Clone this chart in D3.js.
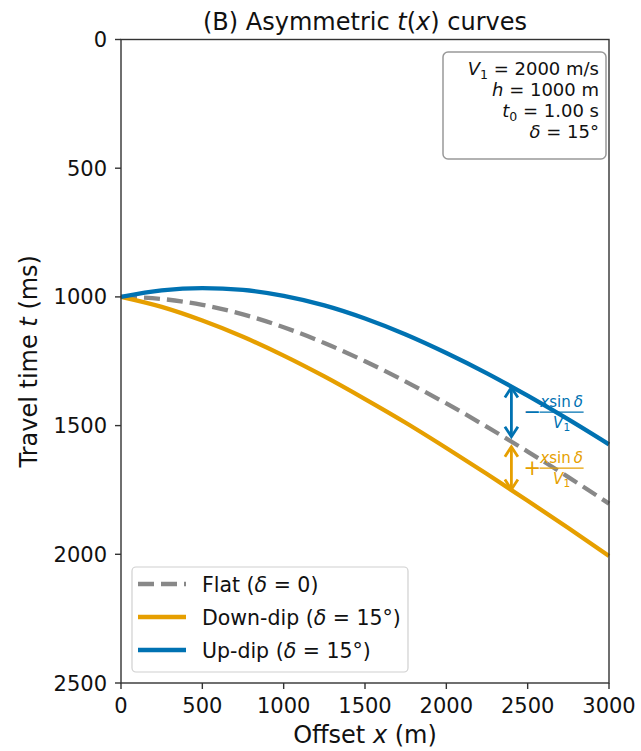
<!DOCTYPE html>
<html>
<head>
<meta charset="utf-8">
<script src="https://cdn.jsdelivr.net/npm/d3@7"></script>
<style>
  body { margin: 0; background: #fff; }
  svg { display: block; font-family: "DejaVu Sans", sans-serif; }
</style>
</head>
<body>
<div id="chart"></div>
<script>
// offsets (m) and travel times (ms)
const offsets = [0, 250, 500, 750, 1000, 1250, 1500, 1750, 2000, 2250, 2500, 2750, 3000];
const flatT = [1000, 1008, 1031, 1068, 1118, 1179, 1250, 1329, 1414, 1505, 1601, 1700, 1803];
const downT = [1000, 1039, 1092, 1155, 1228, 1309, 1397, 1489, 1587, 1688, 1792, 1898, 2007];
const upT = [1000, 975, 966, 973, 996, 1033, 1084, 1146, 1218, 1297, 1384, 1476, 1573];

const xTicks = [0, 500, 1000, 1500, 2000, 2500, 3000];
const yTicks = [0, 500, 1000, 1500, 2000, 2500];

// the two double arrows at x = 2400
const arrowX = 2400;
const upArrow = [1352, 1543];
const downArrow = [1582, 1748];

const paramLines = ["V1", "h", "t0", "delta"];

const width = 641, height = 751;
const margin = { left: 121, right: 32, top: 39.5, bottom: 68 };
const blue = "#0072B2", orange = "#E69F00", gray = "#888888";

const svg = d3.select("#chart").append("svg")
    .attr("width", width)
    .attr("height", height);

const x = d3.scaleLinear().domain([0, 3000]).range([margin.left, width - margin.right]);
const y = d3.scaleLinear().domain([0, 2500]).range([margin.top, height - margin.bottom]);

// curves
const series = [
    { vals: flatT, color: gray, dash: "16,7" },
    { vals: downT, color: orange, dash: null },
    { vals: upT, color: blue, dash: null }
];
const line = d3.line()
    .x(d => x(d[0]))
    .y(d => y(d[1]))
    .curve(d3.curveMonotoneX);

svg.append("g").selectAll("path")
    .data(series)
    .enter()
    .append("path")
    .attr("d", s => line(offsets.map((o, i) => [o, s.vals[i]])))
    .attr("fill", "none")
    .attr("stroke", s => s.color)
    .attr("stroke-width", 4.3)
    .attr("stroke-dasharray", s => s.dash);

// double arrows
function doubleArrow(g, t1, t2, color) {
    const ax = x(arrowX), y1 = y(t1), y2 = y(t2);
    const hw = 6.5, hl = 10;
    g.append("line")
        .attr("x1", ax).attr("x2", ax)
        .attr("y1", y1 + 1).attr("y2", y2 - 1)
        .attr("stroke", color).attr("stroke-width", 2.8);
    g.append("path")
        .attr("d", `M${ax - hw},${y1 + hl} L${ax},${y1} L${ax + hw},${y1 + hl}`)
        .attr("fill", "none").attr("stroke", color).attr("stroke-width", 2.8);
    g.append("path")
        .attr("d", `M${ax - hw},${y2 - hl} L${ax},${y2} L${ax + hw},${y2 - hl}`)
        .attr("fill", "none").attr("stroke", color).attr("stroke-width", 2.8);
}

function fracLabel(g, sign, tMid, color) {
    const lx = x(2475), cy = y(tMid);
    g.append("text")
        .attr("x", lx).attr("y", cy + 7)
        .attr("font-size", 21).attr("fill", color)
        .text(sign);
    const fx = lx + 38;
    const num = g.append("text")
        .attr("x", fx).attr("y", cy - 5)
        .attr("text-anchor", "middle")
        .attr("font-size", 15).attr("fill", color);
    num.append("tspan").attr("font-style", "italic").text("x");
    num.append("tspan").text("sin\u2009");
    num.append("tspan").attr("font-style", "italic").text("δ");
    g.append("line")
        .attr("x1", fx - 22).attr("x2", fx + 22)
        .attr("y1", cy).attr("y2", cy)
        .attr("stroke", color).attr("stroke-width", 1.2);
    const den = g.append("text")
        .attr("x", fx).attr("y", cy + 16)
        .attr("text-anchor", "middle")
        .attr("font-size", 15).attr("fill", color);
    den.append("tspan").attr("font-style", "italic").text("V");
    den.append("tspan").attr("font-size", 10.5).attr("dy", 3).text("1");
}

const ann = svg.append("g");
doubleArrow(ann, upArrow[0], upArrow[1], blue);
doubleArrow(ann, downArrow[0], downArrow[1], orange);
fracLabel(ann, "\u2212", (upArrow[0] + upArrow[1]) / 2, blue);
fracLabel(ann, "+", (downArrow[0] + downArrow[1]) / 2, orange);

// axes frame
const axisColor = "#333";
svg.append("rect")
    .attr("x", x(0)).attr("y", y(0))
    .attr("width", x(3000) - x(0)).attr("height", y(2500) - y(0))
    .attr("fill", "none").attr("stroke", axisColor).attr("stroke-width", 1.4);

const xAxis = svg.append("g").attr("transform", `translate(0,${y(2500)})`);
xAxis.selectAll("line").data(xTicks).enter().append("line")
    .attr("x1", d => x(d)).attr("x2", d => x(d))
    .attr("y1", 0).attr("y2", 6)
    .attr("stroke", axisColor).attr("stroke-width", 1.4);
xAxis.selectAll("text").data(xTicks).enter().append("text")
    .attr("x", d => x(d)).attr("y", 30)
    .attr("text-anchor", "middle")
    .attr("font-size", 21).attr("fill", "#111")
    .text(d => d);

const yAxis = svg.append("g").attr("transform", `translate(${x(0)},0)`);
yAxis.selectAll("line").data(yTicks).enter().append("line")
    .attr("x1", -6).attr("x2", 0)
    .attr("y1", d => y(d)).attr("y2", d => y(d))
    .attr("stroke", axisColor).attr("stroke-width", 1.4);
yAxis.selectAll("text").data(yTicks).enter().append("text")
    .attr("x", -14).attr("y", d => y(d) + 7.5)
    .attr("text-anchor", "end")
    .attr("font-size", 21).attr("fill", "#111")
    .text(d => d);

// axis labels
const xl = svg.append("text")
    .attr("x", (x(0) + x(3000)) / 2).attr("y", 743)
    .attr("text-anchor", "middle").attr("font-size", 24).attr("fill", "#111");
xl.append("tspan").text("Offset ");
xl.append("tspan").attr("font-style", "italic").text("x");
xl.append("tspan").text(" (m)");

const yl = svg.append("text")
    .attr("transform", `translate(37,${(y(0) + y(2500)) / 2}) rotate(-90)`)
    .attr("text-anchor", "middle").attr("font-size", 24).attr("fill", "#111");
yl.append("tspan").text("Travel time ");
yl.append("tspan").attr("font-style", "italic").text("t");
yl.append("tspan").text(" (ms)");

// title
const title = svg.append("text")
    .attr("x", (x(0) + x(3000)) / 2).attr("y", 30)
    .attr("text-anchor", "middle").attr("font-size", 24).attr("fill", "#111");
title.append("tspan").text("(B) Asymmetric ");
title.append("tspan").attr("font-style", "italic").text("t");
title.append("tspan").text("(");
title.append("tspan").attr("font-style", "italic").text("x");
title.append("tspan").text(") curves");

// parameter box
const box = svg.append("g");
box.append("rect")
    .attr("x", 443).attr("y", 52)
    .attr("width", 163).attr("height", 107)
    .attr("rx", 5)
    .attr("fill", "#fff").attr("stroke", "#999").attr("stroke-width", 1.5);

const boxFs = 18;
function boxLine(i) {
    return box.append("text")
        .attr("x", 599).attr("y", 75 + i * 21)
        .attr("text-anchor", "end")
        .attr("font-size", boxFs).attr("fill", "#111");
}
paramLines.forEach((p, i) => {
    const t = boxLine(i);
    if (p === "V1") {
        t.append("tspan").attr("font-style", "italic").text("V");
        t.append("tspan").attr("font-size", 12.5).attr("dy", 3.5).text("1");
        t.append("tspan").attr("dy", -3.5).text(" = 2000 m/s");
    } else if (p === "h") {
        t.append("tspan").attr("font-style", "italic").text("h");
        t.append("tspan").text(" = 1000 m");
    } else if (p === "t0") {
        t.append("tspan").attr("font-style", "italic").text("t");
        t.append("tspan").attr("font-size", 12.5).attr("dy", 3.5).text("0");
        t.append("tspan").attr("dy", -3.5).text(" = 1.00 s");
    } else {
        t.append("tspan").attr("font-style", "italic").text("δ");
        t.append("tspan").text(" = 15°");
    }
});

// legend
const legendItems = [
    { color: gray, dash: "16,7", pre: "Flat (", post: " = 0)" },
    { color: orange, dash: null, pre: "Down-dip (", post: " = 15°)" },
    { color: blue, dash: null, pre: "Up-dip (", post: " = 15°)" }
];
const legend = svg.append("g");
legend.append("rect")
    .attr("x", 132).attr("y", 567)
    .attr("width", 276).attr("height", 105)
    .attr("rx", 4)
    .attr("fill", "#fff").attr("fill-opacity", 0.8)
    .attr("stroke", "#d0d0d0").attr("stroke-width", 1.2);
legendItems.forEach((it, i) => {
    const cy = 584 + i * 33;
    legend.append("line")
        .attr("x1", 138).attr("x2", 186)
        .attr("y1", cy).attr("y2", cy)
        .attr("stroke", it.color).attr("stroke-width", 4.3)
        .attr("stroke-dasharray", it.dash);
    const t = legend.append("text")
        .attr("x", 202).attr("y", cy + 7.5)
        .attr("font-size", 20.5).attr("fill", "#111");
    t.append("tspan").text(it.pre);
    t.append("tspan").attr("font-style", "italic").text("δ");
    t.append("tspan").text(it.post);
});
</script>
</body>
</html>
